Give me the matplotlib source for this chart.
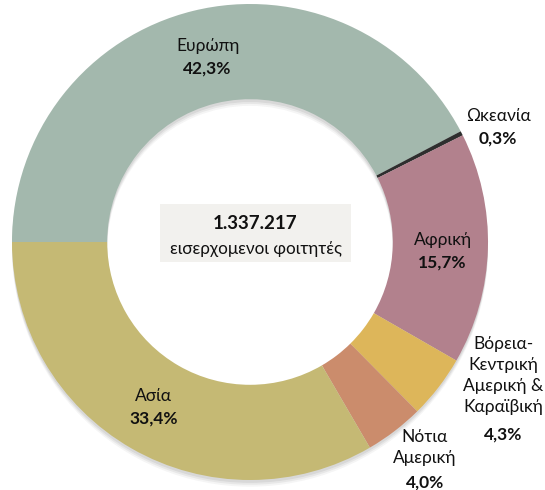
import numpy as np
import matplotlib
matplotlib.use('Agg')
import matplotlib.pyplot as plt
from matplotlib.patches import Rectangle

plt.rcParams['font.family'] = ['Lato', 'Open Sans', 'DejaVu Sans']

# data (clockwise from 9 o'clock)
regions = ['Ευρώπη', 'Ωκεανία', 'Αφρική', 'Βόρεια-\nΚεντρική\nΑμερική &\nΚαραϊβική',
           'Νότια\nΑμερική', 'Ασία']
shares = [42.3, 0.3, 15.7, 4.3, 4.0, 33.4]
share_labels = ['42,3%', '0,3%', '15,7%', '4,3%', '4,0%', '33,4%']
total_label = '1.337.217'
total_caption = 'εισερχομενοι φοιτητές'

colors = ['#A3B8AD', '#2E2E2E', '#B2818D', '#DDB65A', '#CB8C6C', '#C5B974']
# label radius / angle nudge per wedge
label_r = [0.80, 1.15, 0.81, 1.23, 1.17, 0.80]
label_da = [-1.0, -2.2, -1.0, 7.6, 1.4, -0.5]

W, H = 545, 490
cx, cy, R = 250, 242, 238
FS = 12.5
LINE = 22.7 / R  # one text line in data units

fig = plt.figure(figsize=(W / 100, H / 100), dpi=100)
ax = fig.add_axes([0, 0, 1, 1])

# soft shadow under the ring
for k, a in zip([0.012, 0.02, 0.028], [0.10, 0.08, 0.06]):
    ax.pie([1], radius=1.0, colors=['#555555'], center=(0, -k),
           wedgeprops=dict(width=0.4, alpha=a, linewidth=0), frame=True)

wedges, _ = ax.pie(shares, radius=1.0, colors=colors, startangle=180,
                   counterclock=False, frame=True,
                   wedgeprops=dict(width=0.4, linewidth=0))
ax.set_xlim(-cx / R, (W - cx) / R)
ax.set_ylim(-(H - cy) / R, cy / R)
ax.set_aspect('equal')
ax.axis('off')

for w, name, pct, r, da in zip(wedges, regions, share_labels, label_r, label_da):
    ang = np.deg2rad((w.theta1 + w.theta2) / 2 + da)
    x, y = r * np.cos(ang), r * np.sin(ang)
    nlines = name.count('\n') + 1
    top = y + LINE * (nlines + 1) / 2 - 4 / R
    ax.text(x, top, name, ha='center', va='top', fontsize=FS,
            color='#111111', linespacing=1.38)
    ax.text(x, top - LINE * nlines, pct, ha='center', va='top',
            fontsize=FS, fontweight='bold', color='#111111')

# centre box
bx0, bx1 = (160 - cx) / R, (351 - cx) / R
by0, by1 = (cy - 262) / R, (cy - 204) / R
ax.add_patch(Rectangle((bx0, by0), bx1 - bx0, by1 - by0, facecolor='#F2F1EE',
                       edgecolor='none', zorder=3))
mx = (bx0 + bx1) / 2
ax.text(mx, (cy - 224) / R, total_label, ha='center', va='center', fontsize=13.5,
        fontweight='bold', color='#111111', zorder=4)
ax.text(mx, (cy - 249) / R, total_caption, ha='center', va='center', fontsize=12.3,
        color='#111111', zorder=4)

fig.savefig('out.png', dpi=100)
